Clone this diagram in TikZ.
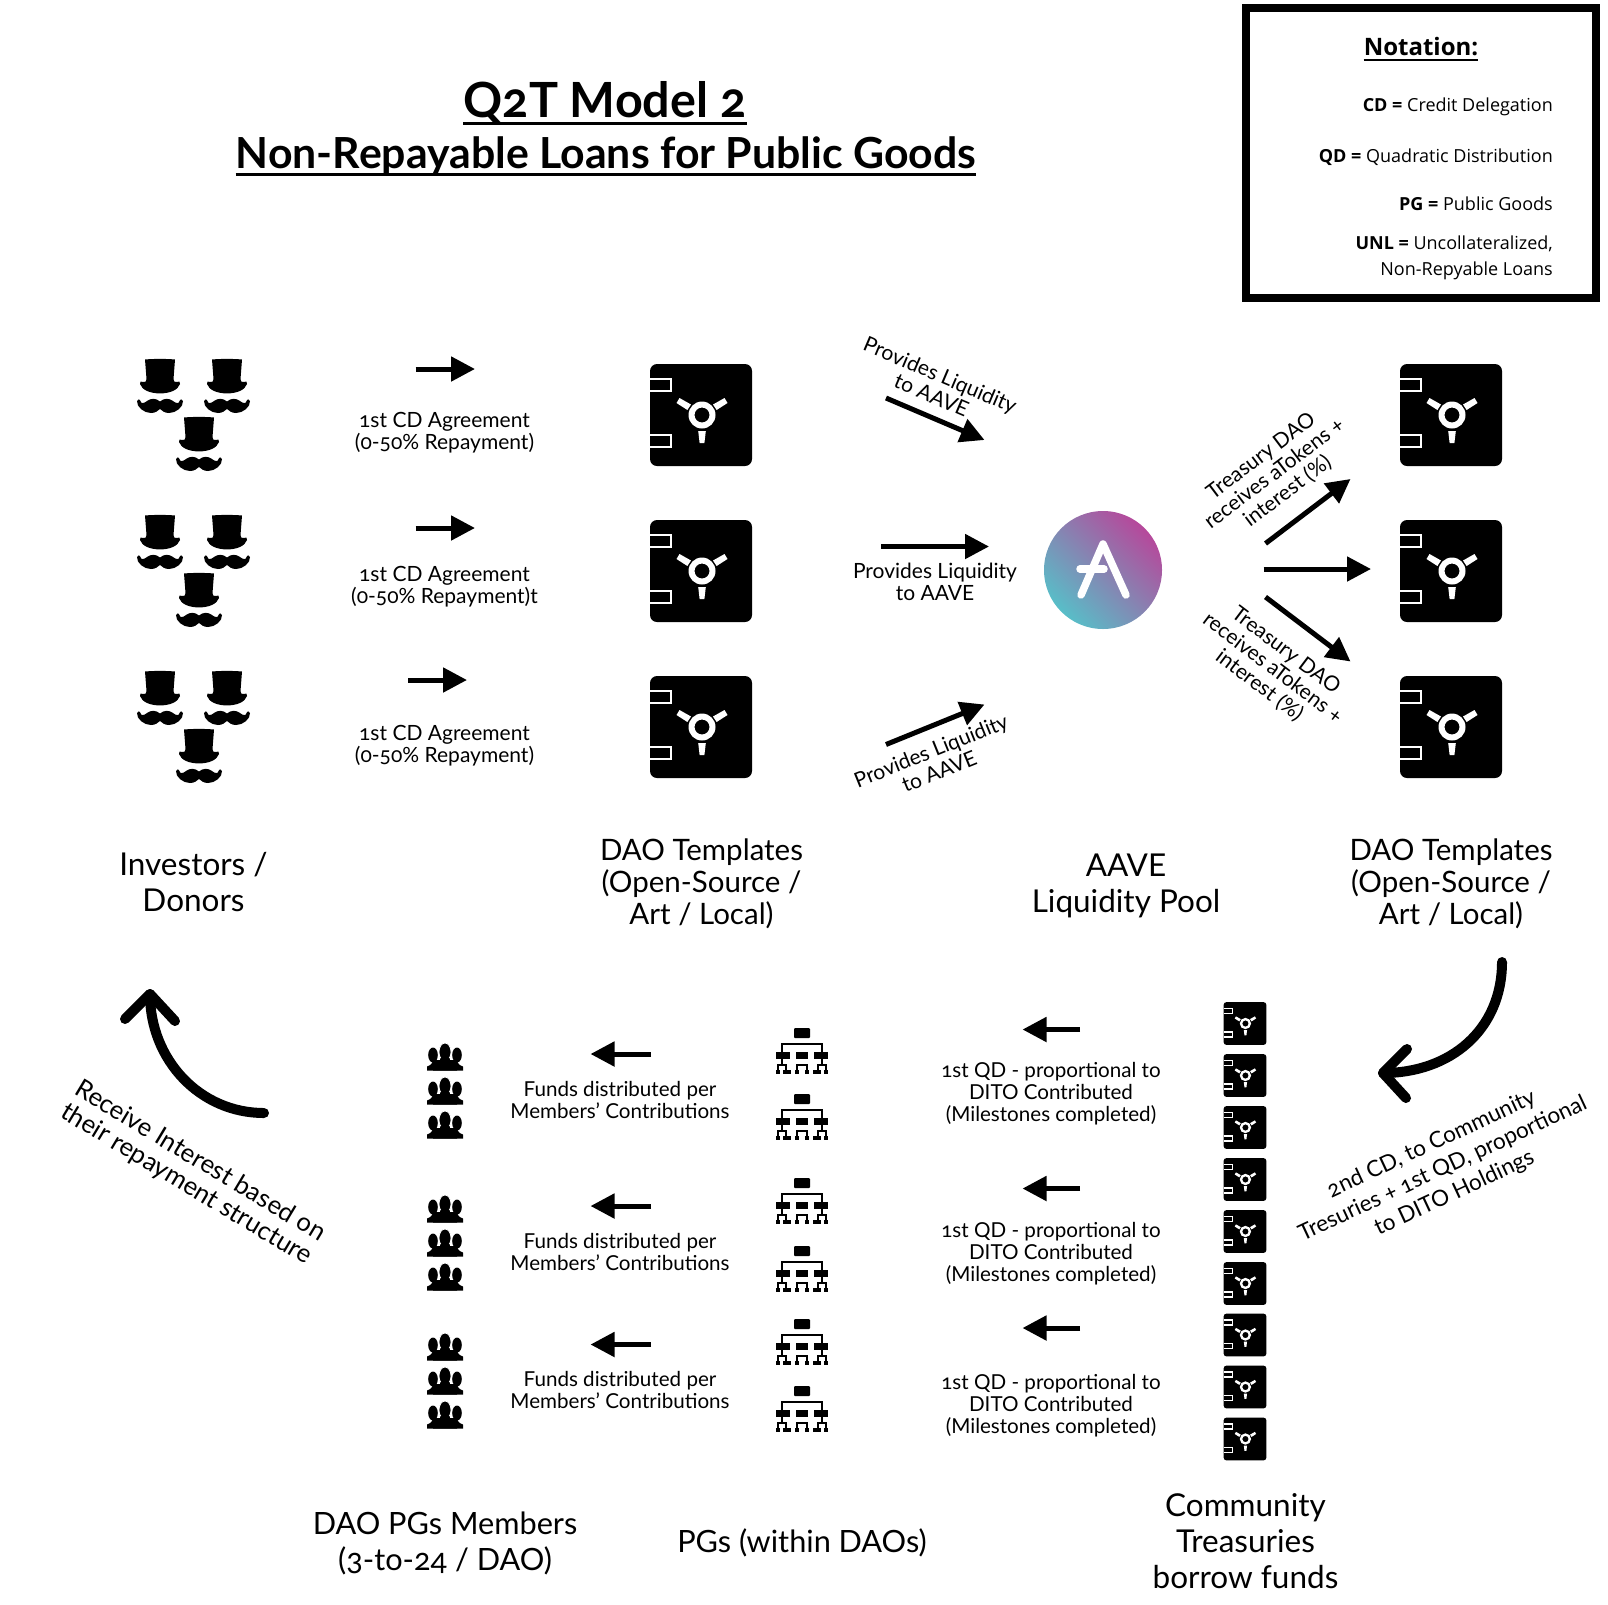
\documentclass[tikz,border=0pt]{standalone}
\usepackage{fontspec}
\usepackage{tikz}
\usetikzlibrary{arrows.meta}
\setmainfont{Lato}[Numbers=OldStyle]
\newfontfamily\notefont{Open Sans}

\definecolor{aaveteal}{RGB}{88,190,200}
\definecolor{aavepink}{RGB}{182,72,155}

\tikzset{
  flow/.style={line width=5pt,-{Triangle[length=24pt,width=24pt]}},
  sweep/.style={line width=10pt,line cap=round,line join=round},
  small/.style={inner sep=0pt,align=center,font=\fontsize{21}{22}\selectfont},
  tiny/.style={inner sep=0pt,align=center,font=\fontsize{20.6}{22}\selectfont},
  big/.style={inner sep=0pt,align=center,font=\fontsize{31.5}{36}\selectfont},
  low/.style={inner sep=0pt,align=center,font=\fontsize{30.7}{36}\selectfont},
  dao/.style={inner sep=0pt,align=center,font=\fontsize{29.5}{32}\selectfont},
  slant/.style={inner sep=0pt,align=center,font=\fontsize{#1}{27}\selectfont},
  note/.style={inner sep=0pt,anchor=base east,font=\notefont\fontsize{18}{18}\selectfont},
  heading/.style={inner sep=0pt,font=\bfseries\fontsize{48.5}{50}\selectfont},
}

% safe: centre x, centre y, scale
\newcommand{\safeicon}[3]{
\begin{scope}[shift={(#1,#2)},scale=#3]
\fill[rounded corners=#3*7pt] (-51,-51) rectangle (51,51);
\draw[white,line width=1.2pt+#3*0.6pt] (-51,-36) -- (-30,-36) -- (-30,-24) -- (-51,-24);
\draw[white,line width=1.2pt+#3*0.6pt] (-51,20) -- (-30,20) -- (-30,32) -- (-51,32);
\fill[white,even odd rule] (1,0) circle (13.5) (1,0) circle (7.5);
\fill[white] (-2.8,16) -- (4.8,16) -- (3.4,28) -- (-1.4,28) -- cycle;
\fill[white] (-13.6,-5) -- (-10,-10.5) -- (-21.5,-17) -- (-24.5,-12) -- cycle;
\fill[white] (15.6,-5) -- (12,-10.5) -- (23.5,-17) -- (26.5,-12) -- cycle;
\end{scope}
}

% hat and moustache: x and y of the top of the hat
\newcommand{\hatman}[2]{
\begin{scope}[shift={(#1,#2)}]
\fill (-15,0.5) .. controls (-6,-0.3) and (6,-0.3) .. (15,0.5) -- (13.5,20) .. controls (13.5,22) and (14.5,24) .. (17,23) .. controls (19,21) and (20.5,23) .. (20,25) .. controls (18,31) and (10,34.4) .. (0,34.4) .. controls (-10,34.4) and (-18,31) .. (-20,25) .. controls (-20.5,23) and (-19,21) .. (-17,23) .. controls (-14.5,24) and (-13.5,22) .. (-13.5,20) -- cycle;
\fill (0,42.5) .. controls (4,39) and (9,39) .. (13,42) .. controls (16,44.5) and (19,45) .. (19.5,42) .. controls (20,40) and (22,39.5) .. (23,42) .. controls (23.5,48) and (16,54) .. (9,54) .. controls (5,54) and (2,52) .. (0,50) .. controls (-2,52) and (-5,54) .. (-9,54) .. controls (-16,54) and (-23.5,48) .. (-23,42) .. controls (-22,39.5) and (-20,40) .. (-19.5,42) .. controls (-19,45) and (-16,44.5) .. (-13,42) .. controls (-9,39) and (-4,39) .. (0,42.5) -- cycle;
\end{scope}
}

% three members: centre x, centre y
\newcommand{\memberset}[2]{
\begin{scope}[shift={(#1,#2)}]
\fill (-12,-2) ellipse (4.8 and 7.5);
\fill (12,-2) ellipse (4.8 and 7.5);
\fill (-18,13.5) -- (-18,9.5) .. controls (-14,8) and (-13,7) .. (-12,3) -- (12,3) .. controls (13,7) and (14,8) .. (18,9.5) -- (18,13.5) -- cycle;
\filldraw[draw=white,line width=0.8pt] (0,-5) ellipse (6 and 9);
\fill (-4.5,1) -- (4.5,1) -- (6,7) -- (12,10) -- (12,13.5) -- (-12,13.5) -- (-12,10) -- (-6,7) -- cycle;
\end{scope}
}

% org chart: x of the middle, y of the top
\newcommand{\orgchart}[2]{
\begin{scope}[shift={(#1,#2)}]
\fill[rounded corners=1pt] (-8,0) rectangle (8,10);
\draw[line width=2.5pt] (-20,24) -- (-20,16) -- (20,16) -- (20,24);
\fill (-26,24) rectangle (-12,31);
\fill (-6,24) rectangle (6,31);
\fill (12,24) rectangle (26,31);
\draw[line width=2.5pt] (-20,31) -- (-20,37);
\draw[line width=2.5pt] (20,31) -- (20,37);
\draw[line width=2pt] (-24,42) -- (-24,37) -- (-16,37) -- (-16,42);
\draw[line width=2pt] (24,42) -- (24,37) -- (16,37) -- (16,42);
\draw[line width=2pt] (-5,42) -- (-5,37) -- (5,37) -- (5,42);
\fill (-26,42) rectangle (-22,46);
\fill (-19,42) rectangle (-11,46);
\fill (-7,42) rectangle (-3,46);
\fill (3,42) rectangle (7,46);
\fill (11,42) rectangle (19,46);
\fill (22,42) rectangle (26,46);
\end{scope}
}

\begin{document}
\begin{tikzpicture}[x=1pt,y=-1pt]
\useasboundingbox (0,0) rectangle (1608,1604);

% title
\node[heading] (ttlmain) at (605,102.5) {Q2T Model 2};
\node[heading,font=\bfseries\fontsize{42.8}{44}\selectfont] (ttlsub) at (606,156) {Non-Repayable Loans for Public Goods};
\draw[line width=3pt] ([yshift=-6pt]ttlmain.base west) -- ([yshift=-6pt]ttlmain.base east);
\draw[line width=2.5pt] ([yshift=-6pt]ttlsub.base west) -- ([yshift=-6pt]ttlsub.base east);

% notation
\draw[line width=8pt] (1246,8) rectangle (1596,298);
\node[inner sep=0pt,font=\notefont\bfseries\fontsize{24}{24}\selectfont] (nothead) at (1421,47) {Notation:};
\draw[line width=1.6pt] ([yshift=-4pt]nothead.base west) -- ([yshift=-4pt]nothead.base east);
\node[note] (notcd) at (1553,111) {\textbf{CD =} Credit Delegation};
\node[note] (notqd) at (1553,162) {\textbf{QD =} Quadratic Distribution};
\node[note] (notpg) at (1553,210) {\textbf{PG =} Public Goods};
\node[note] (notunl) at (1553,249) {\textbf{UNL =} Uncollateralized,};
\node[note] (notnon) at (1553,275) {Non-Repyable Loans};

% investors
\hatman{160}{359}
\hatman{227}{359}
\hatman{199}{417}
\hatman{160}{515}
\hatman{227}{515}
\hatman{199}{573}
\hatman{160}{671}
\hatman{227}{671}
\hatman{199}{729}

% safes
\safeicon{701}{415}{1}
\safeicon{701}{571}{1}
\safeicon{701}{727}{1}
\safeicon{1451}{415}{1}
\safeicon{1451}{571}{1}
\safeicon{1451}{727}{1}
\safeicon{1245}{1023.5}{0.42}
\safeicon{1245}{1075.5}{0.42}
\safeicon{1245}{1127.5}{0.42}
\safeicon{1245}{1179.5}{0.42}
\safeicon{1245}{1231.5}{0.42}
\safeicon{1245}{1283.5}{0.42}
\safeicon{1245}{1335}{0.42}
\safeicon{1245}{1387}{0.42}
\safeicon{1245}{1439}{0.42}

% aave logo
\coordinate (L) at (1103,570);
\coordinate (La) at (1103,544);
\coordinate (Lb) at (1081,595);
\coordinate (Lc) at (1126,595);
\coordinate (Ld) at (1080,569);
\coordinate (Le) at (1104,569);
\shade[top color=aavepink,bottom color=aaveteal,shading angle=-45] (L) circle (59);
\draw[white,line width=7.5pt,line cap=round,line join=round] (Lb) -- (La) -- (Lc);
\draw[white,line width=7.5pt,line cap=round] (Ld) -- (Le);

% org charts and members
\orgchart{802}{1028}
\orgchart{802}{1094}
\orgchart{802}{1178}
\orgchart{802}{1246}
\orgchart{802}{1319}
\orgchart{802}{1386}
\memberset{445}{1057}
\memberset{445}{1091}
\memberset{445}{1125}
\memberset{445}{1209}
\memberset{445}{1243}
\memberset{445}{1277}
\memberset{445}{1347}
\memberset{445}{1381}
\memberset{445}{1415}

% straight arrows
\coordinate (A1) at (415.5,369);
\coordinate (A2) at (475,369);
\coordinate (B1) at (415.5,528);
\coordinate (B2) at (475,528);
\coordinate (C1) at (408,680);
\coordinate (C2) at (467,680);
\coordinate (D1) at (886,398);
\coordinate (D2) at (984.5,440);
\coordinate (E1) at (881,546.5);
\coordinate (E2) at (989,546.5);
\coordinate (F1) at (886,744.5);
\coordinate (F2) at (984.5,704.5);
\coordinate (G1) at (1265.5,543.5);
\coordinate (G2) at (1350.5,479);
\coordinate (H1) at (1263.5,569);
\coordinate (H2) at (1371,569);
\coordinate (I1) at (1265.5,597);
\coordinate (I2) at (1350.5,661.5);
\coordinate (J1) at (651,1054);
\coordinate (J2) at (590.5,1054);
\coordinate (K1) at (651,1206);
\coordinate (K2) at (590.5,1206);
\coordinate (M1) at (651,1344.5);
\coordinate (M2) at (590.5,1344.5);
\coordinate (N1) at (1080,1029.5);
\coordinate (N2) at (1022.5,1029.5);
\coordinate (P1) at (1080,1188.5);
\coordinate (P2) at (1022.5,1188.5);
\coordinate (Q1) at (1080,1328);
\coordinate (Q2) at (1022.5,1328);

\draw[flow] (A1) -- (A2);
\draw[flow] (B1) -- (B2);
\draw[flow] (C1) -- (C2);
\draw[flow] (D1) -- (D2);
\draw[flow] (E1) -- (E2);
\draw[flow] (F1) -- (F2);
\draw[flow] (G1) -- (G2);
\draw[flow] (H1) -- (H2);
\draw[flow] (I1) -- (I2);
\draw[flow] (J1) -- (J2);
\draw[flow] (K1) -- (K2);
\draw[flow] (M1) -- (M2);
\draw[flow] (N1) -- (N2);
\draw[flow] (P1) -- (P2);
\draw[flow] (Q1) -- (Q2);

% curved arrows
\coordinate (R1) at (1502,962);
\coordinate (R2) at (1383,1073);
\coordinate (R3) at (1407,1049);
\coordinate (R4) at (1406,1098);
\coordinate (S1) at (264,1113);
\coordinate (S2) at (150,994);
\coordinate (S3) at (125,1019);
\coordinate (S4) at (175,1021);
\draw[sweep] (R1) .. controls (1502,1030) and (1450,1073) .. (R2);
\draw[sweep] (R3) -- (R2) -- (R4);
\draw[sweep] (S1) .. controls (200,1113) and (150,1060) .. (S2);
\draw[sweep] (S3) -- (S2) -- (S4);

% labels, top half
\node[small] (cd1) at (444.5,433) {1st CD Agreement\\(0-50\% Repayment)};
\node[small] (cd2) at (444.5,586.5) {1st CD Agreement\\(0-50\% Repayment)t};
\node[small] (cd3) at (444.5,746) {1st CD Agreement\\(0-50\% Repayment)};
\node[small,rotate=-23] (liq1) at (936,385) {Provides Liquidity\\to AAVE};
\node[small] (liq2) at (935,582) {Provides Liquidity\\to AAVE};
\node[small,rotate=22] (liq3) at (935,761) {Provides Liquidity\\to AAVE};
\node[small,rotate=37] (tre1) at (1274.5,474) {Treasury DAO\\receives aTokens +\\interest (\%)};
\node[small,rotate=-37] (tre2) at (1272.5,668.5) {Treasury DAO\\receives aTokens +\\interest (\%)};
\node[big] (inv) at (193.5,882.5) {Investors /\\Donors};
\node[dao] (dao1) at (701.5,884) {DAO Templates\\(Open-Source /\\Art / Local)};
\node[big] (pool) at (1126,886) {AAVE\\Liquidity Pool};
\node[dao] (dao2) at (1451,884) {DAO Templates\\(Open-Source /\\Art / Local)};

% labels, bottom half
\node[slant=22.5,rotate=25] (second) at (1443,1169) {2nd CD, to Community\\Tresuries + 1st QD, proportional\\to DITO Holdings};
\node[slant=25.6,rotate=-31] (back) at (193,1173) {Receive Interest based on\\their repayment structure};
\node[tiny] (qd1) at (1051,1094) {1st QD - proportional to\\DITO Contributed\\(Milestones completed)};
\node[tiny] (qd2) at (1051,1254) {1st QD - proportional to\\DITO Contributed\\(Milestones completed)};
\node[tiny] (qd3) at (1051,1406) {1st QD - proportional to\\DITO Contributed\\(Milestones completed)};
\node[tiny] (fund1) at (620,1099.5) {Funds distributed per\\Members' Contributions};
\node[tiny] (fund2) at (620,1251.5) {Funds distributed per\\Members' Contributions};
\node[tiny] (fund3) at (620,1390) {Funds distributed per\\Members' Contributions};
\node[low] (mem) at (445,1543) {DAO PGs Members\\(3-to-24 / DAO)};
\node[low] (pgs) at (802,1543) {PGs (within DAOs)};
\node[big] (com) at (1245.5,1541) {Community\\Treasuries\\borrow funds};

\end{tikzpicture}
\end{document}
